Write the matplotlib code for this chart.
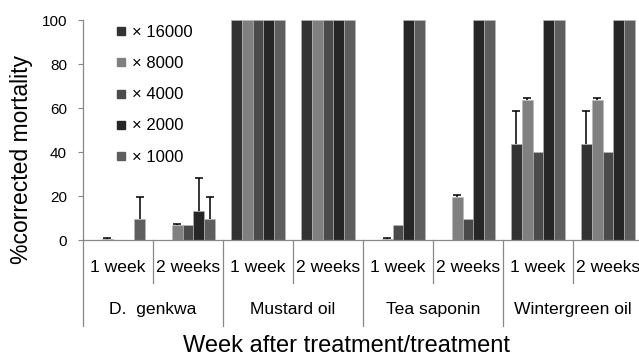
import matplotlib
matplotlib.use('Agg')
import matplotlib.pyplot as plt
import matplotlib.transforms as mtransforms
from matplotlib.lines import Line2D
import numpy as np

plt.rcParams['font.family'] = ['Liberation Sans', 'DejaVu Sans']

treatments = ['D.  genkwa', 'Mustard oil', 'Tea saponin', 'Wintergreen oil']
weeks = ['1 week', '2 weeks']
dilutions = ['×16000', '×8000', '×4000', '×2000', '×1000']
colors = ['#333333', '#808080', '#4a4a4a', '#262626', '#5e5e5e']

# one row per treatment/week group, one column per dilution
values = np.array([
    [0, 0.5, 0, 0, 9.5],
    [0, 6.8, 6.8, 13.0, 9.5],
    [100, 100, 100, 100, 100],
    [100, 100, 100, 100, 100],
    [0, 0.5, 6.8, 100, 100],
    [0, 19.5, 9.4, 100, 100],
    [43.5, 63.5, 40, 100, 100],
    [43.5, 63.5, 40, 100, 100],
])
errors = np.array([
    [0, 0.3, 0, 0, 10.0],
    [0, 0.4, 0, 15.0, 10.0],
    [0, 0, 0, 0, 0],
    [0, 0, 0, 0, 0],
    [0, 0.3, 0, 0, 0],
    [0, 1.0, 0, 0, 0],
    [15.0, 1.0, 0, 0, 0],
    [15.0, 1.0, 0, 0, 0],
])

W, H = 639, 359
fig = plt.figure(figsize=(W / 100, H / 100), dpi=100)
ax = fig.add_axes([83 / W, (H - 240) / H, 560 / W, 220 / H])

n_groups = values.shape[0]
centers = np.arange(n_groups) + 0.5
bw = 0.154
for k in range(len(dilutions)):
    x = centers + (k - 2) * bw
    ax.bar(x, values[:, k], width=bw, color=colors[k], edgecolor='#b8b8b8',
           linewidth=0.4, zorder=2)
    m = errors[:, k] > 0
    if not m.any():
        continue
    _, caps, _ = ax.errorbar(x[m], values[m, k],
                             yerr=[np.zeros(m.sum()), errors[m, k]],
                             fmt='none', ecolor='black', elinewidth=1.1,
                             capsize=2.6, capthick=1.1, zorder=3)
    caps[0].set_visible(False)  # only the upper cap

ax.set_xlim(0, n_groups)
ax.set_ylim(0, 100)
ax.set_yticks([0, 20, 40, 60, 80, 100])
ax.tick_params(axis='y', length=3.5, width=0.8, color='#888888', pad=8,
               labelsize=11)
ax.set_xticks([])
for s in ['top', 'right']:
    ax.spines[s].set_visible(False)
for s in ['left', 'bottom']:
    ax.spines[s].set_color('#888888')
    ax.spines[s].set_linewidth(0.9)

# category axis: week labels, treatment labels and separators
trans = mtransforms.blended_transform_factory(ax.transData, ax.transAxes)
for i in range(n_groups):
    ax.text(centers[i], -0.127, weeks[i % 2], transform=trans, ha='center',
            va='center', fontsize=12.6)
for j, name in enumerate(treatments):
    ax.text(2 * j + 1, -0.318, name, transform=trans, ha='center',
            va='center', fontsize=12.6)
for i in range(n_groups + 1):
    low = -0.391 if i % 2 == 0 else -0.195
    ax.plot([i, i], [0, low], transform=trans, color='#888888', lw=0.9,
            clip_on=False)

fig.text(22 / W, 1 - 159 / H, '%corrected mortality', rotation=90,
         ha='center', va='center', fontsize=16.5)
fig.text(347 / W, 1 - 346 / H, 'Week after treatment/treatment',
         ha='center', va='center', fontsize=17)

handles = [Line2D([], [], marker='s', markersize=5.5, linestyle='none',
                  color=c) for c in colors]
ax.legend(handles, [d.replace('×', '× ') for d in dilutions],
          loc='upper left', bbox_to_anchor=(114 / W, 1 - 25 / H),
          bbox_transform=fig.transFigure, frameon=False, fontsize=12,
          handlelength=0.8, handletextpad=0.3, labelspacing=0.97,
          borderpad=0, borderaxespad=0)

fig.savefig('out.png', dpi=100)
